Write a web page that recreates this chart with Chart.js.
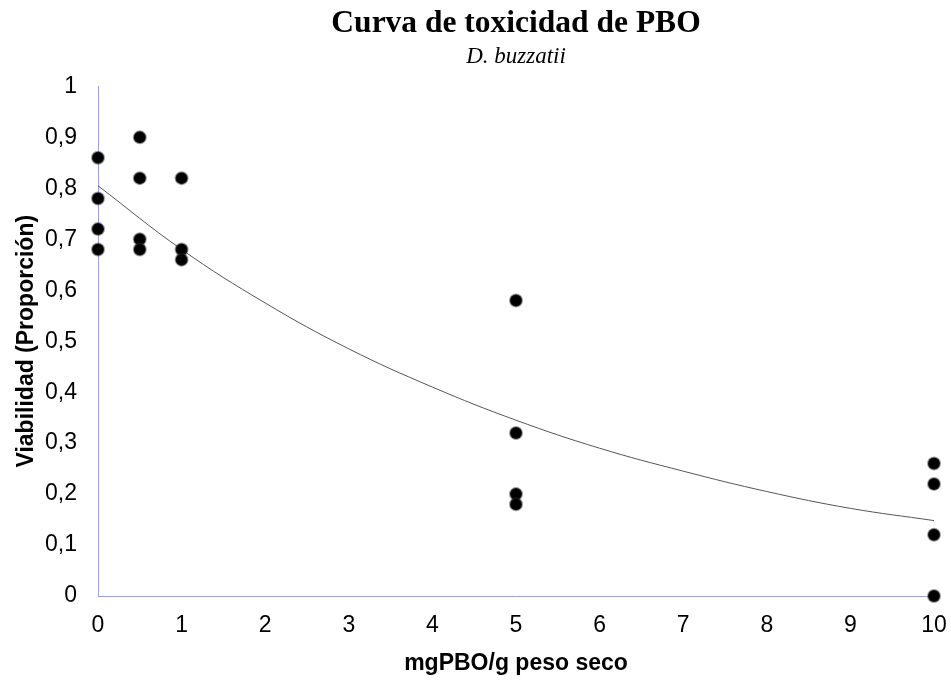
<!DOCTYPE html>
<html>
<head>
<meta charset="utf-8">
<script src="https://cdn.jsdelivr.net/npm/chart.js@4.4.1/dist/chart.umd.min.js"></script>
<style>
  html, body { margin: 0; padding: 0; background: #fff; }
  #wrap { width: 951px; height: 680px; }
</style>
</head>
<body>
<div id="wrap"><canvas id="tox-chart"></canvas></div>
<script>
  // observed viability per dose
  const doses = [0, 0, 0, 0, 0.5, 0.5, 0.5, 0.5, 1, 1, 1, 5, 5, 5, 5, 10, 10, 10, 10];
  const viability = [0.86, 0.78, 0.72, 0.68, 0.90, 0.82, 0.70, 0.68, 0.82, 0.68, 0.66, 0.58, 0.32, 0.20, 0.18, 0.26, 0.22, 0.12, 0.00];

  // trend line at each x tick
  const trendX = [0, 1, 2, 3, 4, 5, 6, 7, 8, 9, 10];
  const trendY = [0.805, 0.68, 0.575, 0.485, 0.41, 0.345, 0.29, 0.245, 0.205, 0.172, 0.148];

  const yTickLabels = ['0', '0,1', '0,2', '0,3', '0,4', '0,5', '0,6', '0,7', '0,8', '0,9', '1'];

  const ctx = document.getElementById('tox-chart');

  new Chart(ctx, {
  type: 'scatter',
  data: {
  datasets: [{
  label: 'Viabilidad',
  data: doses.map((d, i) => ({ x: d, y: viability[i] })),
  backgroundColor: '#000',
  borderColor: 'rgba(40,40,40,0.45)',
  borderWidth: 2,
  pointRadius: 6,
  clip: false,
  order: 1
  }, {
  label: 'Tendencia',
  data: trendX.map((d, i) => ({ x: d, y: trendY[i] })),
  showLine: true,
  borderColor: '#555',
  borderWidth: 1,
  pointRadius: 0,
  tension: 0.4,
  clip: false,
  order: 2
  }]
  },
  options: {
  responsive: true,
  maintainAspectRatio: false,
  animation: false,
  layout: { padding: { top: 0, right: 17, bottom: 3, left: 6 } },
  plugins: {
  legend: { display: false },
  tooltip: { enabled: false },
  title: {
  display: true,
  fullSize: false,
  text: 'Curva de toxicidad de PBO',
  color: '#000',
  font: { family: 'Liberation Serif', size: 31.5, weight: 'bold' },
  padding: { top: 5, bottom: 0 }
  },
  subtitle: {
  display: true,
  fullSize: false,
  text: 'D. buzzatii',
  color: '#000',
  font: { family: 'Liberation Serif', size: 23, style: 'italic' },
  padding: { top: 0, bottom: 16 }
  }
  },
  scales: {
  x: {
  type: 'linear',
  min: 0,
  max: 10,
  grid: { display: false, drawTicks: false },
  border: { color: '#a0a0d8', width: 1 },
  ticks: {
  stepSize: 1,
  color: '#000',
  padding: 16,
  font: { family: 'Liberation Sans', size: 23 }
  },
  title: {
  display: true,
  text: 'mgPBO/g peso seco',
  color: '#000',
  font: { family: 'Liberation Sans', size: 23, weight: 'bold' },
  padding: { top: 10, bottom: 0 }
  },
  afterFit: (scale) => {
  scale.height = 81;
  scale.paddingLeft = 0;
  scale.paddingRight = 0;
  }
  },
  y: {
  min: 0,
  max: 1,
  grid: { display: false, drawTicks: false },
  border: { color: '#a0a0d8', width: 1 },
  ticks: {
  stepSize: 0.1,
  color: '#000',
  padding: 21,
  font: { family: 'Liberation Sans', size: 23 },
  callback: (v, i) => yTickLabels[i]
  },
  title: {
  display: true,
  text: 'Viabilidad (Proporción)',
  color: '#000',
  font: { family: 'Liberation Sans', size: 23, weight: 'bold' },
  padding: { top: 7, bottom: 4 }
  },
  afterFit: (scale) => { scale.width = 92; }
  }
  }
  }
  });
</script>
</body>
</html>
